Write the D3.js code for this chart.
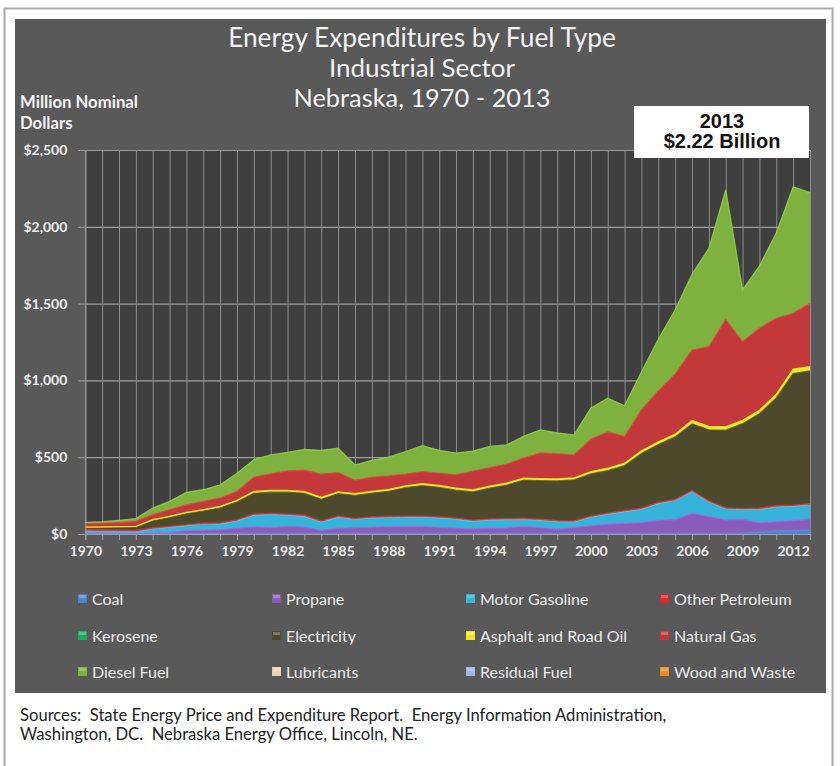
<!DOCTYPE html>
<html><head><meta charset="utf-8">
<script src="https://cdn.jsdelivr.net/npm/d3@7/dist/d3.min.js"></script>
<style>body{margin:0;background:#fff;} svg{display:block;font-family:Lato,"Open Sans",sans-serif;}</style>
</head><body><svg id="c" width="840" height="766"></svg>
<script>
const years = [1970,1971,1972,1973,1974,1975,1976,1977,1978,1979,1980,1981,1982,1983,1984,1985,1986,1987,1988,1989,1990,1991,1992,1993,1994,1995,1996,1997,1998,1999,2000,2001,2002,2003,2004,2005,2006,2007,2008,2009,2010,2011,2012,2013];
const xLabelYears = [1970,1973,1976,1979,1982,1985,1988,1991,1994,1997,2000,2003,2006,2009,2012];
const yTicks = [0,500,1000,1500,2000,2500];

const coal = [2,2,2,1,0,0,0,0,0,0, 0,0,0,0,0,0,0,0,0,0, 0,0,0,0,0,0,0,0,0,0, 0,0,0,0,0,0,0,0,0,4, 14,20,22,24];
const propane = [2,2,2,2,6,11,22,26,28,38, 46,42,50,45,24,38,40,45,48,49, 51,43,39,34,39,39,50,41,32,42, 55,65,70,75,90,94,135,115,92,92, 60,60,66,72];
const motorGasoline = [14,13,11,11,27,33,33,38,38,48, 77,85,73,70,54,71,55,60,59,60, 58,62,57,49,52,54,45,48,48,37, 55,65,76,86,108,123,141,95,72,63, 86,96,92,93];
const otherPetroleum = [10,10,10,10,6,6,6,6,6,7, 7,7,7,7,7,7,7,7,7,7, 7,7,7,7,7,7,7,7,7,7, 6,6,6,7,8,8,6,6,6,6, 8,8,8,8];
const kerosene = [0,0,0,0,0,0,0,0,0,0, 0,0,0,0,0,0,0,0,0,0, 0,0,0,0,0,0,0,0,0,0, 0,0,0,0,0,0,0,0,0,0, 0,0,0,0];
const electricity = [11,13,17,20,46,57,71,79,98,116, 135,138,142,143,141,146,149,154,164,185, 199,191,182,184,201,218,248,251,258,267, 275,277,293,356,376,407,435,462,506,553, 615,702,857,865];
const asphalt = [6,6,6,6,8,8,9,9,10,10, 12,12,12,12,12,12,12,12,12,12, 12,13,13,13,13,13,13,13,13,13, 15,15,16,18,18,18,22,22,22,22, 22,24,28,28];
const naturalGas = [22,24,26,32,33,43,49,54,54,58, 93,108,127,138,152,126,87,92,88,77, 79,80,87,123,120,124,131,168,165,149, 212,236,174,266,332,392,459,520,697,512, 534,494,364,412];
const dieselFuel = [9,10,15,18,43,54,81,76,86,119, 113,123,121,135,155,158,99,110,122,146, 169,149,142,130,138,125,142,150,135,130, 202,220,200,247,336,418,492,640,845,338, 406,556,823,720];
const lubricants = [0,0,0,0,0,0,0,0,0,0, 0,0,0,0,0,0,0,0,0,0, 0,0,0,0,0,0,0,0,0,0, 0,0,0,0,0,0,0,0,0,0, 0,0,0,0];
const residualFuel = [0,0,0,0,0,0,0,0,0,0, 0,0,0,0,0,0,0,0,0,0, 0,0,0,0,0,0,0,0,0,0, 0,0,0,0,0,0,0,0,0,0, 0,0,0,0];
const woodAndWaste = [0,0,0,0,0,0,0,0,0,0, 0,0,0,0,0,0,0,0,0,0, 0,0,0,0,0,0,0,0,0,0, 0,0,0,0,0,0,0,0,0,0, 0,0,0,0];

const seriesNames = ["Coal","Propane","Motor Gasoline","Other Petroleum","Kerosene","Electricity","Asphalt and Road Oil","Natural Gas","Diesel Fuel","Lubricants","Residual Fuel","Wood and Waste"];
const seriesValues = [coal,propane,motorGasoline,otherPetroleum,kerosene,electricity,asphalt,naturalGas,dieselFuel,lubricants,residualFuel,woodAndWaste];
const seriesColors = ["#4d84c8","#8a5cbc","#37b2d8","#d8262a","#22ab58","#4c492c","#eee821","#c3383a","#7eb13e","#e8d2b2","#9ab8de","#ec8b22"];

const svg = d3.select("#c");
// frame
svg.append("rect").attr("x",4.5).attr("y",8.5).attr("width",828).attr("height",800).attr("fill","#fff").attr("stroke","#a8a8a8").attr("stroke-width",2);
svg.append("rect").attr("x",15).attr("y",19).attr("width",811).attr("height",674).attr("fill","#595959");

const x = d3.scaleLinear().domain([1970,2013]).range([85.3,810]);
const y = d3.scaleLinear().domain([0,2500]).range([534,150]);

svg.append("rect").attr("x",x(1970)).attr("y",y(2500)).attr("width",x(2013)-x(1970)).attr("height",y(0)-y(2500)).attr("fill","#3f3f3f");

// gridlines
const gy = svg.append("g").attr("transform",`translate(${x(1970)},0)`)
  .call(d3.axisLeft(y).tickValues(yTicks).tickSize(-(x(2013)-x(1970))).tickFormat(""));
gy.select(".domain").remove();
gy.selectAll("line").attr("stroke","#9c9c9c").attr("stroke-width",1.2);
const gx = svg.append("g").attr("transform",`translate(0,${y(0)})`)
  .call(d3.axisBottom(x).tickValues(years).tickSize(-(y(0)-y(2500))).tickFormat(""));
gx.select(".domain").remove();
gx.selectAll("line").attr("stroke","#8e8e8e").attr("stroke-width",1);

// data
const table = years.map((yr,i)=>{const o={year:yr}; seriesNames.forEach((k,j)=>o[k]=seriesValues[j][i]); return o;});
const stacked = d3.stack().keys(seriesNames)(table);
const area = d3.area().x(d=>x(d.data.year)).y0(d=>y(d[0])).y1(d=>y(d[1]));
const topLine = d3.line().x(d=>x(d.data.year)).y(d=>y(d[1]));
svg.append("g").selectAll("path").data(stacked).join("path")
  .attr("d",area).attr("fill",(d,i)=>seriesColors[i]);
svg.append("g").selectAll("path").data(stacked.filter((s,i)=>d3.sum(seriesValues[i])>0)).join("path")
  .attr("d",topLine).attr("fill","none")
  .attr("stroke",d=>d3.color(seriesColors[seriesNames.indexOf(d.key)]).brighter(0.5))
  .attr("stroke-width",1.3).attr("stroke-opacity",0.8);

// axes
const ax = svg.append("g").attr("transform",`translate(0,${y(0)})`)
  .call(d3.axisBottom(x).tickValues(years).tickSize(6).tickPadding(6).tickFormat(d=>xLabelYears.includes(d)?String(d):""));
ax.select(".domain").attr("stroke","#a0a0a0");
ax.selectAll("line").attr("stroke","#a0a0a0");
ax.selectAll("text").attr("fill","#ececec").attr("font-size",14).attr("font-weight","bold").attr("font-family","Lato");
const ay = svg.append("g").attr("transform",`translate(${x(1970)},0)`)
  .call(d3.axisLeft(y).tickValues(yTicks).tickSize(7).tickPadding(11).tickFormat(d3.format("$,")));
ay.select(".domain").attr("stroke","#a0a0a0");
ay.selectAll("line").attr("stroke","#a0a0a0");
ay.selectAll("text").attr("fill","#ececec").attr("font-size",14).attr("font-weight","bold").attr("font-family","Lato");

function fit(sel,w){const n=sel.node();const cur=n.getComputedTextLength();const fs=parseFloat(sel.attr("font-size"));sel.attr("font-size",fs*w/cur);}

// titles
const titles = [["Energy Expenditures by Fuel Type",47,388],["Industrial Sector",77,186],["Nebraska, 1970 - 2013",107,257]];
titles.forEach(t=>{
  const s = svg.append("text").attr("x",422).attr("y",t[1]).attr("text-anchor","middle").attr("fill","#f2f2f2").attr("font-size",22).text(t[0]);
  fit(s,t[2]);
});
const yt1 = svg.append("text").attr("x",20).attr("y",108).attr("fill","#f4f4f4").attr("font-weight","bold").attr("font-size",14).text("Million Nominal");
fit(yt1,118);
svg.append("text").attr("x",20).attr("y",129).attr("fill","#f4f4f4").attr("font-weight","bold").attr("font-size",yt1.attr("font-size")).text("Dollars");

// annotation
svg.append("rect").attr("x",634).attr("y",106).attr("width",175).attr("height",52).attr("fill","#fff");
svg.append("text").attr("x",722).attr("y",128).attr("text-anchor","middle").attr("font-family","Liberation Sans, Arial, sans-serif").attr("font-weight","bold").attr("font-size",20).attr("fill","#111").text("2013");
svg.append("text").attr("x",722).attr("y",148).attr("text-anchor","middle").attr("font-family","Liberation Sans, Arial, sans-serif").attr("font-weight","bold").attr("font-size",20).attr("fill","#111").text("$2.22 Billion");

// legend
const colX = [78,272,466,660], rowY = [599,636,672];
const leg = svg.append("g").selectAll("g").data(seriesNames).join("g")
  .attr("transform",(d,i)=>`translate(${colX[i%4]},${rowY[Math.floor(i/4)]})`);
leg.append("rect").attr("x",0).attr("y",-5).attr("width",9).attr("height",9).attr("fill",(d,i)=>seriesColors[i]);
leg.append("rect").attr("x",1).attr("y",-4).attr("width",7).attr("height",3).attr("fill","#fff").attr("opacity",0.25);
leg.append("text").attr("x",14).attr("y",5.5).attr("fill","#ececec").attr("font-size",16).text(d=>d);

// source
const s1 = svg.append("text").attr("x",20).attr("y",721).attr("fill","#222").attr("font-size",14).style("white-space","pre")
  .text("Sources:  State Energy Price and Expenditure Report.  Energy Information Administration,");
fit(s1,647); const fsS = parseFloat(s1.attr("font-size"));
svg.append("text").attr("x",20).attr("y",740).attr("fill","#222").attr("font-size",fsS).style("white-space","pre")
  .text("Washington, DC.  Nebraska Energy Office, Lincoln, NE.");
</script></body></html>
